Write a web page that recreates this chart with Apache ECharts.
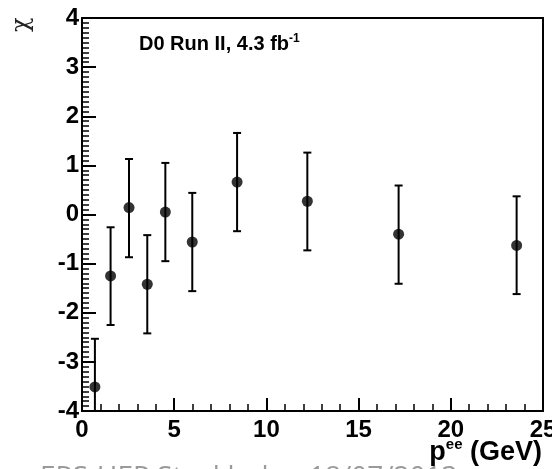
<!DOCTYPE html>
<html>
<head>
<meta charset="utf-8">
<script src="https://cdn.jsdelivr.net/npm/echarts@6/dist/echarts.min.js"></script>
<style>
html,body{margin:0;padding:0;background:#fff;}
#main{width:552px;height:469px;}
</style>
</head>
<body>
<div id="main"></div>
<script>
// data
var pT = [0.70, 1.55, 2.55, 3.54, 4.52, 5.98, 8.41, 12.22, 17.17, 23.57];
var chi = [-3.51, -1.25, 0.14, -1.42, 0.05, -0.56, 0.66, 0.27, -0.40, -0.63];
var errHi = [-2.53, -0.26, 1.13, -0.42, 1.05, 0.44, 1.66, 1.26, 0.59, 0.37];
var errLo = [-4.50, -2.25, -0.87, -2.42, -0.95, -1.56, -0.34, -0.73, -1.41, -1.62];
var xTicks = [0, 5, 10, 15, 20, 25];
var yTicks = [-4, -3, -2, -1, 0, 1, 2, 3, 4];

var FONT = '"Liberation Sans", Arial, sans-serif';

var pts = pT.map(function(x, i){ return [x, chi[i]]; });
var bars = pT.map(function(x, i){ return [x, errLo[i], errHi[i]]; });

var myChart = echarts.init(document.getElementById('main'));

var option = {
    animation: false,
    backgroundColor: '#fff',
    grid: {
        left: 82, top: 18, right: 9, bottom: 58,
        outerBoundsMode: 'none', containLabel: false,
        show: true, borderColor: '#000', borderWidth: 2, backgroundColor: 'transparent'
    },
    xAxis: {
        type: 'value',
        min: xTicks[0], max: xTicks[xTicks.length - 1], interval: 5,
        axisLine: {onZero: false, lineStyle: {color: '#000', width: 2}},
        axisTick: {inside: true, length: 13, lineStyle: {color: '#000', width: 2}},
        minorTick: {show: true, splitNumber: 5, length: 7, lineStyle: {color: '#000', width: 1.5}},
        splitLine: {show: false},
        axisLabel: {
            color: '#000', fontSize: 24, fontWeight: 'bold', fontFamily: FONT, margin: 7,
            showMinLabel: true, showMaxLabel: true
        }
    },
    yAxis: {
        type: 'value',
        min: yTicks[0], max: yTicks[yTicks.length - 1], interval: 1,
        axisLine: {show: true, onZero: false, lineStyle: {color: '#000', width: 2}},
        axisTick: {show: true, inside: true, length: 14, lineStyle: {color: '#000', width: 2}},
        minorTick: {show: true, splitNumber: 10, length: 7, lineStyle: {color: '#000', width: 1.5}},
        splitLine: {show: false},
        axisLabel: {
            color: '#000', fontSize: 24, fontWeight: 'bold', fontFamily: FONT, margin: 3,
            padding: [4, 0, 0, 0],
            showMinLabel: true, showMaxLabel: true
        }
    },
    graphic: [
        {   // y axis title, rotated chi
            type: 'text', x: 10, y: 32, rotation: Math.PI / 2,
            style: {text: 'χ', fontSize: 24, fontFamily: '"DejaVu Serif", serif', fill: '#222'}
        },
        {
            type: 'text', left: 139, top: 33,
            style: {
                text: '{a|D0 Run II, 4.3 fb}{s|-1}',
                rich: {
                    a: {fontSize: 20, fontWeight: 'bold', fontFamily: FONT, fill: '#000', verticalAlign: 'bottom'},
                    s: {fontSize: 12, fontWeight: 'bold', fontFamily: FONT, fill: '#000', verticalAlign: 'top', padding: [0, 0, 9, 0]}
                }
            }
        },
        {   // x axis title
            type: 'text', right: 10, top: 437,
            style: {
                text: '{a|p}{s|ee}{a| (GeV)}',
                rich: {
                    a: {fontSize: 27, fontWeight: 'bold', fontFamily: FONT, fill: '#000'},
                    s: {fontSize: 15, fontWeight: 'bold', fontFamily: FONT, fill: '#000', padding: [0, 0, 16, 0]}
                }
            }
        },
        {   // footer, cut off at the bottom edge
            type: 'text', left: 40, top: 464, z: -1,
            style: {text: 'EPS-HEP Stockholm, 18/07/2013', fontSize: 28, fontFamily: '"Open Sans", sans-serif', fill: '#9a9a9a'}
        }
    ],
    series: [
        {
            type: 'custom',
            clip: true,
            data: bars,
            renderItem: function(params, api){
                var x = api.value(0);
                var lo = api.coord([x, api.value(1)]);
                var hi = api.coord([x, api.value(2)]);
                var cap = 4;
                var st = {stroke: '#000', lineWidth: 2};
                return {
                    type: 'group',
                    children: [
                        {type: 'line', shape: {x1: lo[0], y1: lo[1], x2: hi[0], y2: hi[1]}, style: st},
                        {type: 'line', shape: {x1: hi[0] - cap, y1: hi[1], x2: hi[0] + cap, y2: hi[1]}, style: st},
                        {type: 'line', shape: {x1: lo[0] - cap, y1: lo[1], x2: lo[0] + cap, y2: lo[1]}, style: st}
                    ]
                };
            },
            z: 2
        },
        {
            type: 'scatter',
            data: pts,
            symbol: 'circle',
            symbolSize: 11,
            itemStyle: {color: '#000'},
            z: 3
        }
    ]
};

myChart.setOption(option);
</script>
</body>
</html>
